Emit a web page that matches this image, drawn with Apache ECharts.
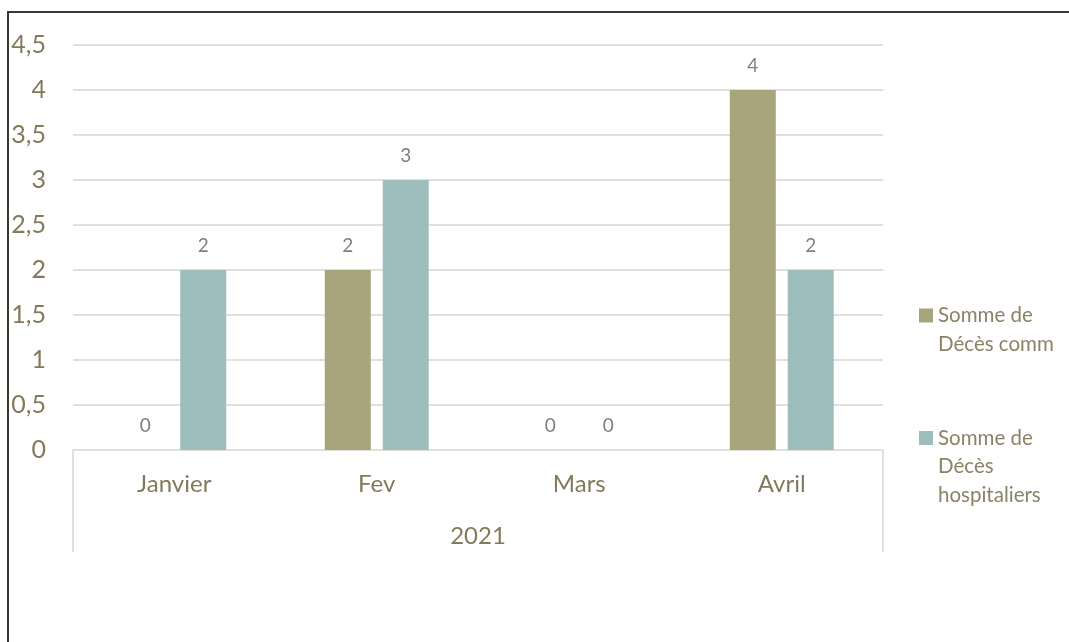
<!DOCTYPE html>
<html>
<head>
<meta charset="utf-8">
<script src="https://cdn.jsdelivr.net/npm/echarts@6/dist/echarts.min.js"></script>
<style>
  html, body { margin: 0; padding: 0; background: #fff; }
  #chart { width: 1069px; height: 642px; }
</style>
</head>
<body>
<div id="chart"></div>
<script>
var months = ['Janvier', 'Fev', 'Mars', 'Avril'];
var year = ['2021'];
var decesComm = [0, 2, 0, 4];
var decesHosp = [2, 3, 0, 2];
var seriesNames = ['Somme de Décès comm', 'Somme de Décès hospitaliers'];
var legendLines = [['Somme de', 'Décès comm'], ['Somme de', 'Décès', 'hospitaliers']];
var colors = ['#a8a47b', '#9dbebd'];

var axisColor = '#837a5c';
var lightLine = '#e2e0d8';
var font = 'Lato';

var myChart = echarts.init(document.getElementById('chart'));

var option = {
    animation: false,
    textStyle: { fontFamily: font },
    graphic: [{
        type: 'rect',
        shape: { x: 8, y: 12, width: 1200, height: 1000 },
        style: { fill: 'none', stroke: '#3a392e', lineWidth: 2 },
        silent: true
    }],
    grid: { left: 73, right: 186, top: 45, bottom: 192 },
    legend: {
        orient: 'vertical',
        left: 914,
        top: 305,
        padding: 0,
        icon: 'none',
        itemWidth: 0,
        itemHeight: 10,
        itemGap: 73,
        selectedMode: false,
        data: seriesNames,
        formatter: function (name) {
            var i = seriesNames.indexOf(name);
            var key = i === 0 ? 'a' : 'b';
            return legendLines[i].map(function (l, j) {
                return (j === 0 ? '{' + key + '|}' : '{ind|}') + '{t|' + l + '}';
            }).join('\n');
        },
        textStyle: {
            rich: {
                a: { width: 14, height: 14, backgroundColor: colors[0] },
                b: { width: 14, height: 14, backgroundColor: colors[1] },
                ind: { width: 14 },
                t: { fontSize: 20.5, lineHeight: 28.5, color: '#8b8367', fontFamily: font, padding: [0, 0, 0, 5] }
            }
        }
    },
    xAxis: [{
        type: 'category',
        data: months,
        axisLine: { lineStyle: { color: lightLine, width: 2 } },
        axisTick: { show: false },
        axisLabel: { color: axisColor, fontSize: 24, margin: 22 }
    }, {
        type: 'category',
        position: 'bottom',
        data: year,
        axisLine: { show: false },
        axisTick: { show: true, length: 102, lineStyle: { color: lightLine, width: 2 } },
        axisLabel: { color: axisColor, fontSize: 24, margin: 74 }
    }],
    yAxis: {
        type: 'value',
        min: 0,
        max: 4.5,
        interval: 0.5,
        axisLine: { show: false },
        axisTick: { show: false },
        splitLine: { lineStyle: { color: lightLine, width: 2 } },
        axisLabel: {
            color: axisColor,
            fontSize: 25,
            margin: 27,
            formatter: function (v) { return String(v).replace('.', ','); }
        }
    },
    series: [{
        name: seriesNames[0],
        type: 'bar',
        data: decesComm,
        barWidth: 46,
        barGap: '26%',
        itemStyle: { color: colors[0] },
        label: { show: true, position: 'top', distance: 15, color: '#7f7f7f', fontSize: 19 }
    }, {
        name: seriesNames[1],
        type: 'bar',
        data: decesHosp,
        barWidth: 46,
        barGap: '26%',
        itemStyle: { color: colors[1] },
        label: { show: true, position: 'top', distance: 15, color: '#7f7f7f', fontSize: 19 }
    }]
};

myChart.setOption(option);
</script>
</body>
</html>
